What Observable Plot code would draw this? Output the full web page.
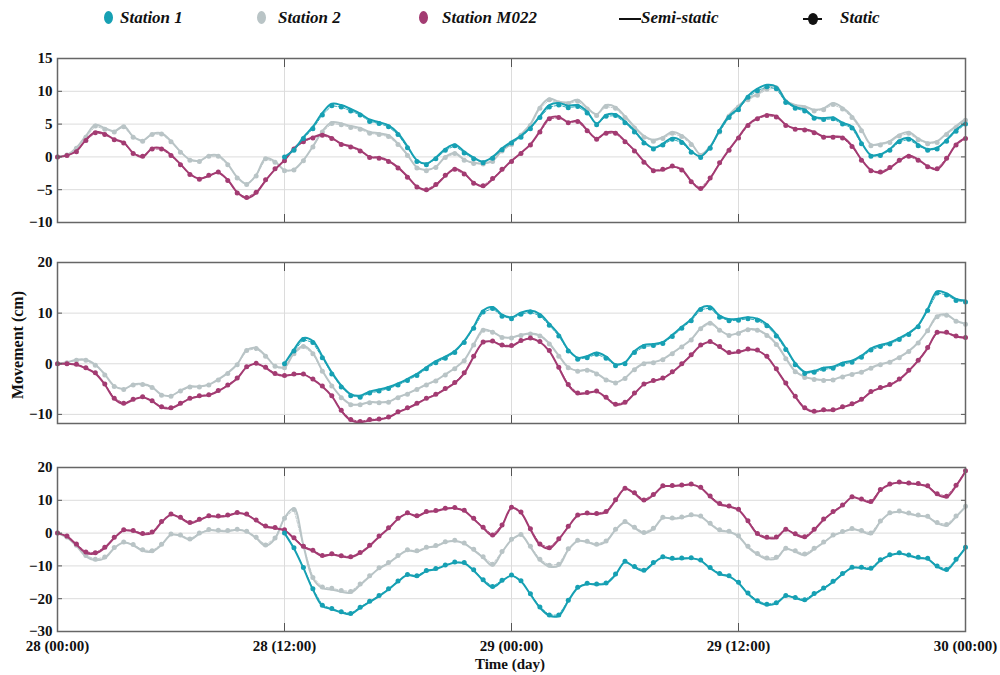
<!DOCTYPE html>
<html>
<head>
<meta charset="utf-8">
<script src="https://cdn.jsdelivr.net/npm/d3@7"></script>
<script src="https://cdn.jsdelivr.net/npm/@observablehq/plot@0.6"></script>
<style>
  html, body { margin: 0; padding: 0; background: #fff; }
  #wrap { position: relative; width: 1000px; height: 675px; background: #fff; font-family: "Liberation Serif", "Times New Roman", serif; color: #111; overflow: hidden; }
  .panel { position: absolute; left: 0; }
  .leg { position: absolute; top: 8px; font-weight: bold; font-style: italic; font-size: 17px; line-height: 20px; white-space: nowrap; }
  .mk { position: absolute; top: 11px; width: 9px; height: 13px; border-radius: 50%; }
</style>
</head>
<body>
<div id="wrap"></div>
<script>
// ---------------- data ----------------
const stations = ["Station 1", "Station 2", "Station M022"];
const stationColors = ["#16a0b3", "#b9c4c6", "#a33b72"];
const xTickValues = [0, 12, 24, 36, 48];
const xTickLabels = ["28 (00:00)", "28 (12:00)", "29 (00:00)", "29 (12:00)", "30 (00:00)"];
const staticStep = 0.5;   // hours between static epochs
const semiStep = 0.5;     // hours between semi-static epochs
const station1Start = 12; // Station 1 starts at 28 (12:00)

const panelYTicks = [[-10, -5, 0, 5, 10, 15], [-10, 0, 10, 20], [-30, -20, -10, 0, 10, 20]];
const panelYDomains = [[-10, 15], [-11.8, 20], [-30, 20]];

// Panel 1 (static)
const p1Static_S1 = [0,1.0,2.8,4.3,6.4,7.8,7.6,7.0,6.4,5.4,5.1,4.6,3.4,1.4,-0.7,-1.2,-0.3,1.0,1.7,0.6,-0.3,-0.9,-0.2,1.1,2.1,
  3.0,4.3,6.0,7.6,7.9,7.5,7.7,6.7,4.9,6.2,6.3,5.2,3.8,2.1,1.2,1.8,2.7,2.2,0.7,-0.1,1.3,3.9,6.0,7.2,
  9.1,10.1,10.7,10.4,8.3,7.4,7.0,5.9,5.7,5.8,5.0,4.4,2.0,0.1,0.2,1.0,2.3,2.7,1.7,1.0,1.2,2.4,3.9,5.0];
const p1Static_S2 = [0,0.3,1.3,3.0,4.7,4.2,3.8,4.6,3.0,2.4,3.4,3.5,2.3,0.7,-0.5,-0.7,0.1,0.1,-1.2,-3.2,-4.2,-2.9,-0.3,-0.8,-2.1,
  -2.0,-0.6,1.5,3.8,5.1,4.9,4.5,4.2,3.6,3.4,3.1,1.9,0.2,-1.7,-2.1,-1.6,-0.1,0.5,-0.5,-1.0,-1.1,-0.7,0.9,1.9,
  3.3,4.8,7.4,8.7,8.2,8.1,8.5,7.3,6.3,7.7,7.4,6.0,4.4,3.0,2.4,2.8,3.6,3.1,1.9,0.2,1.4,3.8,6.2,7.6,
  8.7,9.4,10.3,10.5,8.4,7.7,7.5,7.0,7.2,8.0,7.3,6.0,4.0,1.7,1.8,2.2,3.2,3.6,2.6,2.0,2.2,3.4,4.5,5.6];
const p1Static_M022 = [0,0.2,0.8,2.5,3.7,3.4,2.6,2.1,0.5,0.1,1.2,1.2,0.2,-1.2,-2.7,-3.4,-2.8,-2.3,-3.6,-5.5,-6.2,-5.4,-3.5,-1.8,-0.6,
  1.2,2.3,2.9,3.3,2.8,1.9,1.5,0.9,-0.1,-0.2,-0.7,-1.7,-3.1,-4.6,-5.0,-4.2,-2.8,-1.9,-2.6,-4.0,-4.4,-3.3,-1.9,-0.7,
  0.5,1.8,3.8,5.8,6.0,5.2,5.4,4.0,2.7,3.6,3.6,2.3,0.9,-0.8,-2.1,-1.9,-1.4,-2.0,-3.8,-4.8,-3.2,-0.9,1.0,2.9,
  4.8,5.8,6.3,6.1,4.8,4.2,4.1,3.7,3.0,3.0,2.9,1.6,-0.5,-2.1,-2.3,-1.6,-0.5,0.1,-0.5,-1.5,-1.8,-0.2,1.8,2.8];
// Panel 1 (semi-static)
const p1Semi_S1 = [0,1.1,3.0,4.6,6.7,8.1,7.9,7.3,6.6,5.7,5.3,4.8,3.6,1.6,-0.5,-1.0,-0.1,1.2,1.9,0.8,-0.1,-0.7,0.0,1.3,2.3,
  3.2,4.5,6.2,7.9,8.2,7.8,7.9,6.9,5.1,6.4,6.5,5.4,4.0,2.3,1.4,2.0,2.9,2.4,0.9,0.1,1.5,4.1,6.2,7.4,
  9.3,10.4,11.0,10.7,8.6,7.6,7.2,6.1,5.9,6.0,5.2,4.6,2.2,0.3,0.4,1.2,2.5,2.9,1.9,1.2,1.4,2.6,4.1,5.2];
const p1Semi_S2 = [0,0.3,1.4,3.2,4.9,4.4,3.9,4.7,3.1,2.5,3.5,3.6,2.4,0.8,-0.4,-0.6,0.2,0.2,-1.1,-3.1,-4.1,-2.8,-0.2,-0.7,-2.0,
  -1.9,-0.5,1.6,3.9,5.3,5.1,4.7,4.4,3.8,3.6,3.3,2.0,0.3,-1.6,-2.0,-1.5,0.0,0.6,-0.4,-0.9,-1.0,-0.6,1.0,2.0,
  3.4,5.0,7.6,8.9,8.4,8.3,8.7,7.5,6.5,7.9,7.6,6.2,4.6,3.2,2.6,3.0,3.8,3.3,2.1,0.4,1.6,4.0,6.4,7.8,
  8.9,9.6,10.6,10.8,8.6,7.9,7.7,7.2,7.4,8.2,7.5,6.2,4.2,1.9,2.0,2.4,3.4,3.8,2.8,2.2,2.4,3.6,4.7,5.8];
const p1Semi_M022 = [0,0.2,0.9,2.6,3.8,3.5,2.7,2.2,0.6,0.0,1.3,1.3,0.3,-1.1,-2.6,-3.3,-2.9,-2.4,-3.5,-5.4,-6.3,-5.5,-3.6,-1.9,-0.5,
  1.3,2.4,3.0,3.4,2.9,2.0,1.6,1.0,0.0,-0.1,-0.6,-1.6,-3.0,-4.5,-5.1,-4.3,-2.9,-1.8,-2.5,-3.9,-4.5,-3.4,-2.0,-0.6,
  0.6,1.9,3.9,5.9,6.1,5.3,5.5,4.1,2.8,3.7,3.7,2.4,1.0,-0.7,-2.0,-2.0,-1.5,-1.9,-3.7,-4.9,-3.3,-1.0,1.1,3.0,
  4.9,5.9,6.4,6.2,4.9,4.3,4.2,3.8,3.1,3.1,3.0,1.7,-0.4,-2.0,-2.4,-1.7,-0.6,0.2,-0.4,-1.4,-1.9,-0.3,1.9,2.9];

// Panel 2 (static)
const p2Static_S1 = [0,2.5,4.8,4.2,1.2,-2.0,-4.6,-6.3,-6.6,-5.8,-5.4,-4.9,-4.2,-3.3,-2.3,-1.0,0.2,1.1,2.2,4.2,7.0,10.2,10.9,9.4,8.9,
  9.8,10.2,9.5,7.6,5.5,2.5,0.9,1.2,1.9,1.1,-0.4,0.0,2.2,3.4,3.6,4.0,5.4,7.0,8.5,10.7,11.0,9.2,8.5,8.6,
  8.9,8.6,7.5,5.5,2.8,-0.2,-1.9,-1.7,-1.1,-0.9,-0.1,0.3,1.3,2.7,3.4,3.9,4.8,5.8,7.3,10.5,14.0,13.6,12.5,12.2];
const p2Static_S2 = [0,0.2,0.7,0.7,-0.3,-2.2,-4.5,-5.1,-4.2,-4.1,-4.7,-6.2,-6.4,-5.4,-4.6,-4.6,-4.2,-3.2,-1.9,-0.2,2.6,3.0,1.5,-0.5,-0.8,
  2.0,3.4,2.0,-1.5,-4.4,-6.7,-8.1,-8.1,-7.7,-7.7,-7.6,-6.7,-6.0,-5.1,-4.2,-3.4,-2.2,-1.0,0.6,3.7,6.6,6.2,5.2,5.1,
  5.6,5.9,5.5,3.9,1.5,-0.8,-1.5,-1.3,-2.0,-3.2,-3.8,-2.9,-1.2,0.0,0.2,0.8,2.0,3.3,4.7,6.9,8.0,6.6,5.6,6.0,
  6.7,6.6,5.6,3.8,1.0,-1.6,-2.7,-3.1,-3.3,-3.2,-2.6,-2.1,-1.7,-0.9,-0.2,0.3,1.2,2.4,4.1,6.5,9.3,9.6,8.4,7.8];
const p2Static_M022 = [0,0,-0.1,-0.8,-1.8,-4.0,-6.8,-7.8,-7.0,-6.5,-7.3,-8.5,-8.7,-7.8,-6.8,-6.3,-6.1,-5.3,-4.2,-2.8,-0.6,0.1,-0.7,-1.9,-2.3,
  -2.0,-2.0,-3.0,-4.4,-6.3,-9.2,-11.0,-11.4,-11.0,-10.9,-10.5,-9.5,-8.7,-7.8,-6.8,-6.0,-4.9,-3.7,-1.8,1.5,4.3,4.5,3.7,3.6,
  4.6,5.1,4.4,2.6,-0.7,-4.1,-5.8,-5.7,-5.4,-6.6,-8.0,-7.6,-5.8,-4.0,-3.3,-2.8,-1.6,0.0,1.8,3.7,4.4,3.4,2.2,2.4,
  2.9,2.7,1.5,-1.0,-3.8,-6.4,-8.7,-9.4,-9.1,-9.1,-8.5,-7.9,-7.0,-5.5,-4.7,-4.1,-3.0,-1.3,0.7,3.2,6.2,6.2,5.5,5.2];
// Panel 2 (semi-static)
const p2Semi_S1 = [0,2.8,5.1,4.5,1.5,-1.7,-4.3,-6.0,-6.3,-5.5,-5.1,-4.6,-3.9,-3.0,-2.0,-0.7,0.5,1.4,2.5,4.5,7.3,10.5,11.2,9.7,9.2,
  10.1,10.5,9.8,7.9,5.8,2.8,1.2,1.5,2.2,1.4,-0.1,0.3,2.5,3.7,3.9,4.3,5.7,7.3,8.8,11.0,11.3,9.5,8.8,8.9,
  9.2,8.9,7.8,5.8,3.1,0.1,-1.6,-1.4,-0.8,-0.6,0.2,0.6,1.6,3.0,3.7,4.2,5.1,6.1,7.6,10.8,14.3,13.9,12.8,12.5];
const p2Semi_S2 = [0,0.3,0.8,0.8,-0.2,-2.1,-4.4,-5.0,-4.1,-4.0,-4.6,-6.1,-6.3,-5.3,-4.5,-4.5,-4.1,-3.1,-1.8,-0.1,2.7,3.1,1.6,-0.4,-0.7,
  2.1,3.5,2.1,-1.4,-4.3,-6.6,-8.0,-8.0,-7.6,-7.6,-7.5,-6.6,-5.9,-5.0,-4.1,-3.3,-2.1,-0.9,0.7,3.8,6.7,6.3,5.3,5.2,
  5.7,6.0,5.6,4.0,1.6,-0.7,-1.4,-1.2,-1.9,-3.1,-3.7,-2.8,-1.1,0.1,0.3,0.9,2.1,3.4,4.8,7.0,8.1,6.7,5.7,6.1,
  6.8,6.7,5.7,3.9,1.1,-1.5,-2.6,-3.0,-3.2,-3.1,-2.5,-2.0,-1.6,-0.8,-0.1,0.4,1.3,2.5,4.2,6.6,9.4,9.7,8.5,7.9];
const p2Semi_M022 = [0,0,-0.2,-0.9,-1.9,-4.1,-6.9,-7.9,-7.1,-6.6,-7.4,-8.6,-8.8,-7.9,-6.9,-6.4,-6.2,-5.4,-4.3,-2.9,-0.7,0.0,-0.8,-2.0,-2.4,
  -2.1,-2.1,-3.1,-4.5,-6.4,-9.3,-11.2,-11.6,-11.2,-11.0,-10.6,-9.6,-8.8,-7.9,-6.9,-6.1,-5.0,-3.8,-1.9,1.4,4.2,4.4,3.6,3.5,
  4.5,5.0,4.3,2.5,-0.8,-4.2,-5.9,-5.8,-5.5,-6.7,-8.1,-7.7,-5.9,-4.1,-3.4,-2.9,-1.7,-0.1,1.7,3.6,4.3,3.3,2.1,2.3,
  2.8,2.6,1.4,-1.1,-3.9,-6.5,-8.8,-9.5,-9.2,-9.2,-8.6,-8.0,-7.1,-5.6,-4.8,-4.2,-3.1,-1.4,0.6,3.1,6.1,6.1,5.4,5.1];

// Panel 3 (static)
const p3Static_S1 = [0,-4.5,-10.5,-17.0,-22.0,-23.0,-24.0,-24.5,-22.6,-20.8,-19.0,-17.0,-14.6,-12.6,-13.0,-11.4,-10.8,-9.7,-8.8,-9.0,-11.2,-14.2,-16.3,-14.4,-12.8,
  -14.5,-18.5,-22.5,-25.0,-25.0,-20.5,-16.5,-15.3,-15.5,-15.2,-12.5,-8.6,-10.2,-11.3,-9.0,-7.2,-7.7,-7.6,-7.5,-8.2,-10.5,-12.3,-13.0,-15.0,
  -18.3,-20.6,-21.7,-21.2,-19.0,-19.6,-20.3,-18.4,-16.7,-14.7,-12.3,-10.4,-10.4,-10.7,-8.1,-6.6,-6.0,-6.7,-7.4,-7.7,-10.0,-11.1,-8.0,-4.3];
const p3Static_S2 = [0,-1.2,-3.7,-6.8,-8.0,-7.3,-4.4,-2.7,-3.5,-5.1,-5.4,-3.4,-0.3,-0.6,-1.8,0.0,1.1,0.9,0.8,1.2,0.6,-1.3,-3.6,-1.5,4.5,
  7.2,-4.0,-13.5,-16.4,-16.8,-17.5,-17.8,-15.5,-13.0,-10.6,-9.0,-6.8,-5.1,-5.4,-4.3,-3.8,-2.6,-2.2,-3.0,-4.9,-7.2,-9.5,-5.6,-1.9,
  -0.4,-4.0,-8.0,-9.8,-9.5,-4.8,-2.2,-2.5,-3.4,-2.4,1.2,3.5,1.8,0.2,1.5,4.8,4.6,4.9,5.6,5.2,3.0,1.0,0.6,-0.8,
  -4.0,-6.2,-7.6,-7.4,-4.6,-5.4,-6.4,-4.6,-2.7,-0.6,0.5,1.4,0.8,0.0,3.7,6.2,6.7,6.1,5.5,5.1,3.2,2.6,5.2,8.2];
const p3Static_M022 = [0,-0.9,-3.3,-5.8,-6.0,-4.3,-1.3,1.0,0.8,-0.1,0.3,3.5,5.8,4.8,3.2,4.2,5.3,5.2,5.5,6.3,5.8,4.0,2.2,1.7,1.0,
  -1.4,-4.0,-5.2,-6.8,-6.3,-6.9,-7.2,-5.9,-3.7,-0.9,1.6,4.5,6.2,5.3,6.6,6.9,7.6,7.8,7.0,4.5,1.8,-0.6,2.5,7.9,
  6.4,1.3,-3.3,-4.5,-1.7,2.1,5.5,6.1,6.0,6.6,10.2,13.7,12.3,10.1,11.8,14.4,14.5,14.7,15.0,14.0,11.3,9.0,8.3,7.3,
  3.8,-0.1,-1.3,-1.2,1.2,-0.2,-1.1,1.2,4.3,6.6,8.6,11.1,10.4,9.6,13.3,15.0,15.6,15.3,15.1,14.4,12.0,11.2,14.6,19.0];
// Panel 3 (semi-static)
const p3Semi_S1 = [0,-4.7,-10.7,-17.2,-22.2,-23.2,-24.2,-24.7,-22.8,-21.0,-19.2,-17.2,-14.8,-12.8,-13.2,-11.6,-11.0,-9.9,-9.0,-9.2,-11.4,-14.4,-16.5,-14.6,-13.0,
  -14.7,-18.7,-22.7,-25.2,-25.2,-20.7,-16.7,-15.5,-15.7,-15.4,-12.7,-8.8,-10.4,-11.5,-9.2,-7.4,-7.9,-7.8,-7.7,-8.4,-10.7,-12.5,-13.2,-15.2,
  -18.5,-20.8,-21.9,-21.4,-19.2,-19.8,-20.5,-18.6,-16.9,-14.9,-12.5,-10.6,-10.6,-10.9,-8.3,-6.8,-6.2,-6.9,-7.6,-7.9,-10.2,-11.3,-8.2,-4.5];
const p3Semi_S2 = [0,-1.4,-3.9,-7.1,-8.3,-7.6,-4.6,-2.9,-3.7,-5.4,-5.7,-3.6,-0.5,-0.8,-2.0,-0.2,0.9,0.7,0.6,1.0,0.4,-1.5,-3.9,-1.7,4.6,
  7.6,-3.8,-13.8,-16.8,-17.2,-17.9,-18.2,-15.8,-13.2,-10.8,-9.2,-7.0,-5.3,-5.6,-4.5,-4.0,-2.8,-2.4,-3.2,-5.2,-7.5,-9.9,-5.8,-2.1,
  -0.6,-4.3,-8.3,-10.2,-9.9,-5.1,-2.4,-2.7,-3.6,-2.6,1.0,3.3,1.6,0.0,1.3,4.6,4.4,4.7,5.4,5.0,2.8,0.8,0.4,-1.0,
  -4.3,-6.5,-7.9,-7.7,-4.8,-5.7,-6.7,-4.9,-2.9,-0.8,0.3,1.2,0.6,-0.3,3.5,6.0,6.5,5.9,5.3,4.9,3.0,2.3,5.0,8.0];
const p3Semi_M022 = [0,-1.0,-3.5,-6.0,-6.2,-4.5,-1.5,0.8,0.6,-0.3,0.1,3.3,5.6,4.6,3.0,4.0,5.1,5.0,5.3,6.1,5.6,3.8,2.0,1.5,0.8,
  -1.6,-4.2,-5.4,-7.0,-6.5,-7.1,-7.4,-6.1,-3.9,-1.1,1.4,4.3,6.0,5.1,6.4,6.7,7.4,7.6,6.8,4.3,1.6,-0.8,2.3,7.7,
  6.2,1.1,-3.5,-4.7,-1.9,1.9,5.3,5.9,5.8,6.4,10.0,13.5,12.1,9.9,11.6,14.2,14.3,14.5,14.8,13.8,11.1,8.8,8.1,7.1,
  3.6,-0.3,-1.5,-1.4,1.0,-0.4,-1.3,1.0,4.1,6.4,8.4,10.9,10.2,9.4,13.1,14.8,15.4,15.1,14.9,14.2,11.8,11.0,14.4,18.8];

// ---------------- build ----------------
const FONT = '"Liberation Serif", "Times New Roman", serif';
const wrap = document.getElementById("wrap");

function rows(values, start, step, station) {
  return values.map((v, i) => ({t: start + i * step, v, station}));
}

const panels = [
  {s: [p1Static_S1, p1Static_S2, p1Static_M022], m: [p1Semi_S1, p1Semi_S2, p1Semi_M022], top: 40, height: 200, mt: 18, mb: 18},
  {s: [p2Static_S1, p2Static_S2, p2Static_M022], m: [p2Semi_S1, p2Semi_S2, p2Semi_M022], top: 245, height: 195, mt: 17, mb: 17},
  {s: [p3Static_S1, p3Static_S2, p3Static_M022], m: [p3Semi_S1, p3Semi_S2, p3Semi_M022], top: 450, height: 225, mt: 17, mb: 44}
];

const drawOrder = [1, 2, 0]; // Station 2, M022, Station 1

panels.forEach((p, pi) => {
  const seriesMarks = [];
  drawOrder.forEach(k => {
    const start = k === 0 ? station1Start : 0;
    const st = rows(p.s[k], start, staticStep, stations[k]);
    const se = rows(p.m[k], start, semiStep, stations[k]);
    const c = stationColors[k];
    seriesMarks.push(
      Plot.line(se, {x: "t", y: "v", stroke: c, strokeWidth: 2, curve: "catmull-rom"}),
      Plot.line(st, {x: "t", y: "v", stroke: c, strokeWidth: 1, strokeOpacity: 0.9, strokeDasharray: "3,1.5"}),
      Plot.dot(st, {x: "t", y: "v", fill: c, r: 2.5, stroke: "none"})
    );
  });
  const isLast = pi === panels.length - 1;
  const inner = xTickValues.slice(1, -1);
  const chart = Plot.plot({
    width: 1000,
    height: p.height,
    marginLeft: 57,
    marginRight: 35,
    marginTop: p.mt,
    marginBottom: p.mb,
    x: {domain: [0, 48]},
    y: {domain: panelYDomains[pi]},
    style: {fontFamily: FONT, fontSize: "15px", fontWeight: "bold", color: "#111", background: "transparent"},
    marks: [
      Plot.gridY(panelYTicks[pi], {stroke: "#dcdcdc", strokeOpacity: 1, strokeWidth: 1}),
      Plot.gridX(inner, {stroke: "#dcdcdc", strokeOpacity: 1, strokeWidth: 1}),
      ...seriesMarks,
      Plot.axisY(panelYTicks[pi], {anchor: "left", tickSize: 0, tickPadding: 5, label: null, fill: "#111"}),
      Plot.axisY(panelYTicks[pi], {anchor: "left", tickSize: 5, dx: 5, tickFormat: () => "", label: null, stroke: "#555"}),
      Plot.axisY(panelYTicks[pi], {anchor: "right", tickSize: 5, dx: -5, tickFormat: () => "", label: null, stroke: "#555"}),
      Plot.axisX(inner, {anchor: "bottom", tickSize: 8, dy: -8, tickFormat: () => "", label: null, stroke: "#555"}),
      Plot.axisX(inner, {anchor: "top", tickSize: 8, dy: 8, tickFormat: () => "", label: null, stroke: "#555"}),
      isLast ? Plot.axisX(xTickValues, {anchor: "bottom", tickSize: 0, tickPadding: 9, label: null, fill: "#111",
        tickFormat: d => xTickLabels[xTickValues.indexOf(d)]}) : null,
      Plot.frame({stroke: "#666", strokeWidth: 1.5})
    ]
  });
  const div = document.createElement("div");
  div.className = "panel";
  div.style.top = p.top + "px";
  div.appendChild(chart);
  wrap.appendChild(div);
});

// ---------------- legend ----------------
const legendX = [{mk: 108, tx: 120}, {mk: 261, tx: 278}, {mk: 423, tx: 442}];
stations.forEach((s, i) => {
  const m = document.createElement("div");
  m.className = "mk";
  m.style.left = (legendX[i].mk - 4.5) + "px";
  m.style.background = stationColors[i];
  wrap.appendChild(m);
  const t = document.createElement("div");
  t.className = "leg";
  t.style.left = legendX[i].tx + "px";
  t.textContent = s;
  wrap.appendChild(t);
});
// semi-static
{
  const l = document.createElement("div");
  l.style.cssText = "position:absolute;left:619px;top:18px;width:22px;height:2px;background:#111;";
  wrap.appendChild(l);
  const t = document.createElement("div");
  t.className = "leg";
  t.style.left = "641px";
  t.textContent = "Semi-static";
  wrap.appendChild(t);
}
// static
{
  const l = document.createElement("div");
  l.style.cssText = "position:absolute;left:803px;top:18px;width:19px;height:2px;background:#111;";
  wrap.appendChild(l);
  const d = document.createElement("div");
  d.style.cssText = "position:absolute;left:808px;top:13px;width:10px;height:12px;border-radius:50%;background:#111;";
  wrap.appendChild(d);
  const t = document.createElement("div");
  t.className = "leg";
  t.style.left = "840px";
  t.textContent = "Static";
  wrap.appendChild(t);
}

// ---------------- axis titles ----------------
{
  const yl = document.createElement("div");
  yl.textContent = "Movement (cm)";
  yl.style.cssText = "position:absolute;left:18px;top:345px;transform:translate(-50%,-50%) rotate(-90deg);font-weight:bold;font-size:16px;white-space:nowrap;";
  wrap.appendChild(yl);
  const xl = document.createElement("div");
  xl.textContent = "Time (day)";
  xl.style.cssText = "position:absolute;left:510px;top:664px;transform:translate(-50%,-50%);font-weight:bold;font-size:15px;white-space:nowrap;";
  wrap.appendChild(xl);
}
</script>
</body>
</html>
